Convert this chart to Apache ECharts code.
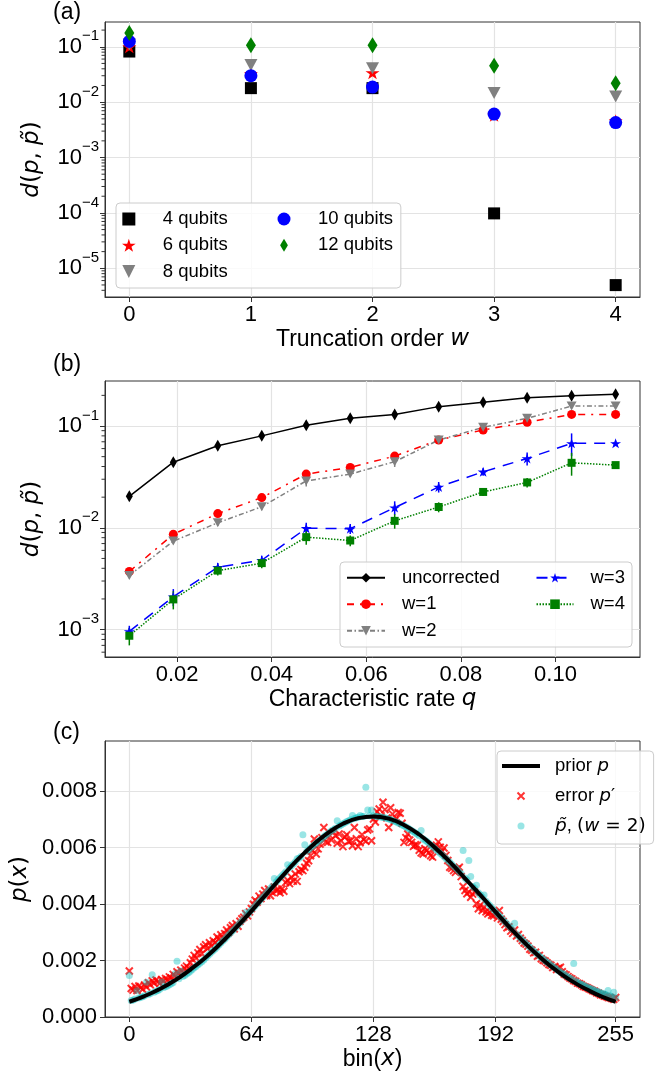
<!DOCTYPE html>
<html><head><meta charset="utf-8">
<script src="https://cdn.jsdelivr.net/npm/echarts@6/dist/echarts.min.js"></script>
<style>html,body{margin:0;padding:0;background:#fff}#c{width:669px;height:1075px}</style>
</head><body><div id="c"></div>
<script>
// ---------------- Panel (a) ----------------
const truncOrder = [0, 1, 2, 3, 4];
const d4q  = [0.082, 0.0179, 0.0179, 9.8e-5, 4.97e-6];
const d6q  = [0.100, 0.033, 0.034, 0.0058, 0.0046];
const d8q  = [0.110, 0.047, 0.041, 0.0146, 0.0126];
const d10q = [0.125, 0.030, 0.0187, 0.0061, 0.00428];
const d12q = [0.177, 0.106, 0.106, 0.0453, 0.022];
const decadeTicksA = [1e-5, 1e-4, 1e-3, 1e-2, 1e-1];
const minorDecadesA = [1e-6, 1e-5, 1e-4, 1e-3, 1e-2, 1e-1];

// ---------------- Panel (b) ----------------
const rateQ = [0.0099, 0.0192, 0.0286, 0.0379, 0.0473, 0.0566, 0.0660, 0.0753, 0.0847, 0.0940, 0.1034, 0.1127];
const dUncorr = [0.0204, 0.0441, 0.064, 0.080, 0.1016, 0.119, 0.130, 0.155, 0.171, 0.189, 0.198, 0.205];
const eUncorr = [0.0012, 0.002, 0.003, 0.003, 0.004, 0.004, 0.005, 0.005, 0.006, 0.006, 0.006, 0.006];
const dW1 = [0.00372, 0.00863, 0.0138, 0.0198, 0.0337, 0.0392, 0.0506, 0.0728, 0.0914, 0.109, 0.130, 0.130];
const eW1 = [0.0002, 0.0006, 0.0009, 0.0012, 0.002, 0.002, 0.003, 0.004, 0.005, 0.005, 0.006, 0.006];
const dW2 = [0.0034, 0.0074, 0.0112, 0.0161, 0.0289, 0.0337, 0.0446, 0.0728, 0.097, 0.119, 0.157, 0.157];
const eW2 = [0.0002, 0.0005, 0.0008, 0.0012, 0.0035, 0.002, 0.005, 0.004, 0.005, 0.005, 0.008, 0.006];
const dW3 = [0.00096, 0.0021, 0.0041, 0.0048, 0.0099, 0.0098, 0.0158, 0.0252, 0.0355, 0.048, 0.0676, 0.0676];
const eW3 = [0.00013, 0.0004, 0.0004, 0.0005, 0.0013, 0.0011, 0.0024, 0.003, 0.003, 0.007, 0.017, 0.004];
const dW4 = [0.00087, 0.00198, 0.0038, 0.0045, 0.0081, 0.0075, 0.0117, 0.016, 0.0225, 0.0279, 0.0435, 0.0413];
const eW4 = [0.00017, 0.0004, 0.0004, 0.0005, 0.0013, 0.0009, 0.0019, 0.0018, 0.002, 0.003, 0.011, 0.003];
const rateTicks = [0.02, 0.04, 0.06, 0.08, 0.10];
const decadeTicksB = [1e-3, 1e-2, 1e-1];
const minorDecadesB = [1e-4, 1e-3, 1e-2, 1e-1];
const minorMult = [2, 3, 4, 5, 6, 7, 8, 9];

// ---------------- Panel (c) ----------------  (values in units of 1e-4)
const UNIT = 1e-4;
const binTicks = [0, 64, 128, 192, 255];
const pTicks = [0, 0.002, 0.004, 0.006, 0.008];
const priorBins = [0,8,16,24,32,40,48,56,64,72,80,88,96,104,112,120,128,136,144,152,160,168,176,184,192,200,208,216,224,232,240,248,255];
const priorP = [5.4,7.4,9.9,13.0,16.8,21.1,26.1,31.6,37.5,43.6,49.7,55.5,60.7,65.1,68.4,70.4,71.0,70.2,68.0,64.6,60.1,54.9,49.1,43.2,37.2,31.3,25.8,20.8,16.4,12.7,9.7,7.1,5.4];
const errorP = [
16.3,10.1,9.5,10.8,9.4,11.0,10.4,9.8,11.3,10.6,
12.1,11.4,12.8,12.0,13.1,12.5,11.9,13.3,12.7,13.6,
13.0,14.2,13.8,15.1,14.5,16.0,15.4,16.6,15.9,17.3,
18.0,17.4,19.2,20.5,21.8,20.9,22.7,23.9,22.4,24.8,
25.6,24.2,26.3,25.1,27.0,26.4,28.3,27.6,29.1,28.0,
29.5,30.8,29.9,31.6,32.4,31.2,33.0,32.1,33.9,34.8,
35.3,36.6,35.8,37.2,38.4,39.9,41.3,40.6,42.8,41.9,
43.5,44.8,43.0,45.3,42.9,44.1,46.0,44.6,45.2,44.0,
45.3,44.5,47.6,48.4,47.2,49.5,48.1,50.6,48.0,51.4,
52.2,51.8,53.0,54.4,55.3,57.1,58.9,63.0,57.7,59.5,
61.2,63.5,67.1,62.0,61.8,64.3,62.6,65.5,64.2,61.5,
64.8,62.4,60.3,63.7,64.5,62.2,62.4,60.6,67.1,63.1,
60.3,61.7,64.5,62.8,62.2,66.2,66.6,62.4,70.1,69.0,
72.6,73.6,71.2,76.0,73.4,70.5,67.1,74.1,71.8,69.4,
70.2,72.4,72.1,68.6,61.8,63.5,64.8,62.6,61.8,60.4,
61.0,60.8,59.0,58.1,57.7,59.6,59.0,58.2,57.1,56.6,
59.4,60.8,62.0,60.1,58.7,59.8,57.2,55.4,53.0,52.6,
51.8,51.2,52.4,53.0,49.7,46.2,44.8,43.6,44.3,42.4,
43.5,44.2,40.1,38.3,39.6,37.7,38.9,37.2,36.5,37.1,
36.0,35.8,36.7,35.1,37.7,34.6,33.8,32.7,31.6,31.9,
30.4,29.6,30.8,28.7,29.2,27.9,27.1,26.2,25.8,25.1,
24.0,23.6,22.7,22.9,21.5,21.8,20.6,20.1,19.8,19.2,
18.6,18.3,17.5,17.9,16.8,17.3,17.6,16.0,15.2,14.9,
14.3,13.8,13.5,12.9,12.6,12.0,11.8,11.4,10.9,10.6,
10.4,10.0,9.7,9.3,9.1,8.6,8.4,7.9,7.8,7.4,
7.2,6.9,6.8,6.5,6.3,6.9];
const tildeP = [
14.7,5.8,6.0,6.4,9.3,6.7,7.0,7.2,7.5,12.3,
8.0,8.3,15.0,8.8,9.1,9.4,9.8,12.4,10.4,10.7,
11.0,11.4,11.8,12.2,15.3,19.7,13.5,16.3,14.3,14.7,
15.2,15.7,16.2,16.8,17.4,17.9,18.5,19.0,19.6,20.2,
20.9,21.6,22.2,22.9,23.5,24.1,24.8,25.5,26.2,26.9,
27.5,28.2,29.0,29.7,30.4,31.1,31.9,32.6,33.4,34.1,
34.9,37.0,36.3,37.1,37.9,38.6,39.4,40.2,40.9,41.7,
42.4,43.2,44.0,44.8,45.6,46.3,49.0,47.8,48.6,49.3,
50.0,50.7,51.4,53.9,52.8,53.5,54.2,54.9,56.0,56.2,
56.8,64.5,61.0,58.6,59.2,59.8,60.4,61.0,61.5,62.1,
62.6,63.2,63.8,64.3,64.8,65.4,65.9,66.3,66.8,69.5,
67.6,68.0,68.4,68.8,69.2,69.5,69.8,71.3,70.3,70.5,
70.7,71.3,71.0,71.1,81.3,73.3,71.2,73.3,71.2,71.1,
71.0,70.9,70.8,70.6,70.5,70.3,70.1,69.9,69.6,69.3,
69.0,68.7,68.4,68.0,67.7,67.3,66.9,66.5,66.0,65.6,
65.1,64.7,64.2,66.0,63.1,62.6,62.1,61.5,60.9,60.4,
59.8,59.2,58.6,58.0,57.4,56.8,56.1,55.5,54.8,54.1,
53.4,52.8,52.1,51.4,50.7,58.9,49.2,48.5,55.4,49.7,
46.2,45.6,46.6,44.0,43.3,42.5,43.2,41.0,40.2,39.5,
38.7,38.0,37.3,36.5,35.8,35.1,34.3,33.6,32.9,32.2,
31.5,30.8,33.2,29.4,28.7,28.0,27.3,26.6,26.0,25.3,
24.7,24.0,23.4,22.8,22.2,21.6,21.0,20.5,19.9,19.4,
18.9,18.4,17.9,17.4,16.9,16.4,15.9,15.5,15.1,14.6,
14.2,13.8,13.4,18.9,12.7,12.3,11.9,11.6,11.3,10.9,
10.6,10.3,10.0,9.7,9.4,9.1,8.9,8.6,8.4,8.1,
7.9,9.4,7.5,7.2,8.8,6.8];

// ---------------- styling ----------------
const FONT = "'Liberation Sans', Arial, sans-serif";
const MATH = "'DejaVu Sans', sans-serif";
const SPINE = '#333';
const GRIDC = '#e3e3e3';
const SQUARE = 'path://M0,0L10,0L10,10L0,10Z';
const TRI_DOWN = 'path://M0,0L20,0L10,20Z';
const THIN_DIAMOND = 'path://M6,0L12,10L6,20L0,10Z';
const STAR = 'path://M0,-1L0.2245,-0.309L0.9511,-0.309L0.3633,0.118L0.5878,0.809L0,0.382L-0.5878,0.809L-0.3633,0.118L-0.9511,-0.309L-0.2245,-0.309Z';
const XMARK = 'path://M0,0L10,10M10,0L0,10';

const A_MIN = 3.03e-6, A_MAX = 0.28;
const B_MIN = 5.38e-4, B_MAX = 0.2768;
const AX = { min: -0.2, max: 4.2 };
const BX = { min: 0.00476, max: 0.11786 };
const CX = { min: -12.75, max: 267.75 };

function minorVals(decades, lo, hi) {
  const out = [];
  decades.forEach(d => minorMult.forEach(m => { const v = m * d; if (v > lo && v < hi) out.push(v); }));
  return out;
}
const supRich = {
  b: { fontSize: 22, lineHeight: 36, fontFamily: FONT, color: '#000' },
  s: { fontSize: 15, lineHeight: 15, verticalAlign: 'top', fontFamily: FONT, color: '#000' }
};
function supFmt(v) {
  const e = Math.round(Math.log10(v));
  return '{b|10}{s|' + (e < 0 ? '\u2212' + (-e) : e) + '}';
}
const mathRich = (fs) => ({
  i: { fontFamily: MATH, fontStyle: 'italic', fontSize: fs, color: '#000' },
  m: { fontFamily: MATH, fontSize: fs, color: '#000' },
  t: { fontFamily: FONT, fontSize: fs, color: '#000' }
});

function xAxisBase(gi, ext, ticks, fmt, nameRich) {
  return {
    gridIndex: gi, type: 'value', min: ext.min, max: ext.max,
    axisLine: { show: true, onZero: false, lineStyle: { color: SPINE, width: 1 } },
    axisTick: { show: true, customValues: ticks, length: 5, lineStyle: { color: SPINE, width: 1 } },
    axisLabel: { customValues: ticks, formatter: fmt, fontSize: 22, fontFamily: FONT, color: '#000', margin: 7 },
    splitLine: { show: true, lineStyle: { color: GRIDC, width: 1.2 } },
    name: nameRich, nameLocation: 'middle', nameGap: 31,
    nameTextStyle: { fontSize: 23, fontFamily: FONT, color: '#000', rich: mathRich(23) }
  };
}
function yLogAxis(gi, lo, hi, ticks) {
  return {
    gridIndex: gi, type: 'log', logBase: 10, min: lo, max: hi,
    axisLine: { show: true, onZero: false, lineStyle: { color: SPINE, width: 1 } },
    axisTick: { show: true, customValues: ticks, length: 5, lineStyle: { color: SPINE, width: 1 } },
    axisLabel: { customValues: ticks, formatter: supFmt, rich: supRich, margin: 6 },
    splitLine: { show: true, lineStyle: { color: GRIDC, width: 1.2 } },
    name: '{i|d}{m|(}{i|p}{m|, }{i|p\u0303}{m|)}', nameLocation: 'middle', nameRotate: 90, nameGap: 61,
    nameTextStyle: { fontSize: 23, fontFamily: MATH, color: '#000', rich: mathRich(23) }
  };
}
function minorTickSeries(xi, xMin, vals) {
  return {
    type: 'custom', xAxisIndex: xi, yAxisIndex: xi, silent: true, clip: false, z: 6,
    data: vals.map(v => [xMin, v]), encode: { x: 0, y: 1 },
    renderItem: (p, api) => {
      const pt = api.coord([api.value(0), api.value(1)]);
      return { type: 'line', shape: { x1: pt[0], y1: pt[1], x2: pt[0] - 3.5, y2: pt[1] }, style: { stroke: SPINE, lineWidth: 1 } };
    }
  };
}
function errSeries(xs, ys, es, color) {
  return {
    type: 'custom', xAxisIndex: 1, yAxisIndex: 1, silent: true, z: 2,
    data: xs.map((x, i) => [x, ys[i], es[i]]), encode: { x: 0, y: 1 },
    renderItem: (p, api) => {
      const x = api.value(0), y = api.value(1), e = api.value(2);
      const a = api.coord([x, y - e]), b = api.coord([x, y + e]);
      return { type: 'line', shape: { x1: a[0], y1: a[1], x2: b[0], y2: b[1] }, style: { stroke: color, lineWidth: 1.5 } };
    }
  };
}
function scatterA(name, ys, symbol, size, color) {
  return { name, type: 'scatter', xAxisIndex: 0, yAxisIndex: 0, symbol, symbolSize: size,
    itemStyle: { color, opacity: 1 }, data: truncOrder.map((x, i) => [x, ys[i]]) };
}
function lineB(name, ys, symbol, size, color, dash) {
  return { name, type: 'line', xAxisIndex: 1, yAxisIndex: 1, symbol, symbolSize: size, showAllSymbol: true,
    lineStyle: { color, width: 1.5, type: dash }, itemStyle: { color },
    data: rateQ.map((x, i) => [x, ys[i]]) };
}

const legendText = (w, padL) => ({ fontSize: 18.5, fontFamily: FONT, color: '#000', lineHeight: 19, width: w, padding: [0, 0, 0, padL] });
const frame = { backgroundColor: 'rgba(255,255,255,0.8)', borderColor: '#cccccc', borderWidth: 1, borderRadius: 4 };

const option = {
  animation: false,
  backgroundColor: '#fff',
  title: [
    { text: '(a)', left: 53, top: 1, padding: 0, textStyle: { fontSize: 23, fontWeight: 'normal', fontFamily: FONT, color: '#000' } },
    { text: '(b)', left: 53, top: 353, padding: 0, textStyle: { fontSize: 23, fontWeight: 'normal', fontFamily: FONT, color: '#000' } },
    { text: '(c)', left: 53, top: 721, padding: 0, textStyle: { fontSize: 23, fontWeight: 'normal', fontFamily: FONT, color: '#000' } }
  ],
  grid: [
    { left: 105, top: 22, width: 535, height: 275, show: true, borderColor: SPINE, borderWidth: 1, backgroundColor: 'transparent' },
    { left: 105, top: 381, width: 535, height: 276, show: true, borderColor: SPINE, borderWidth: 1, backgroundColor: 'transparent' },
    { left: 105, top: 741, width: 535, height: 276, show: true, borderColor: SPINE, borderWidth: 1, backgroundColor: 'transparent' }
  ],
  xAxis: [
    xAxisBase(0, AX, truncOrder, v => String(v), '{t|Truncation order }{i|w}'),
    xAxisBase(1, BX, rateTicks, v => v.toFixed(2), '{t|Characteristic rate }{i|q}'),
    xAxisBase(2, CX, binTicks, v => String(v), '{t|bin(}{i|x}{t|)}')
  ],
  yAxis: [
    yLogAxis(0, A_MIN, A_MAX, decadeTicksA),
    yLogAxis(1, B_MIN, B_MAX, decadeTicksB),
    {
      gridIndex: 2, type: 'value', min: 0, max: 0.00977,
      axisLine: { show: true, onZero: false, lineStyle: { color: SPINE, width: 1 } },
      axisTick: { show: true, customValues: pTicks, length: 5, lineStyle: { color: SPINE, width: 1 } },
      axisLabel: { customValues: pTicks, formatter: v => v.toFixed(3), fontSize: 22, fontFamily: FONT, color: '#000', margin: 8 },
      splitLine: { show: true, lineStyle: { color: GRIDC, width: 1.2 } },
      name: '{i|p}{m|(}{i|x}{m|)}', nameLocation: 'middle', nameRotate: 90, nameGap: 68,
      nameTextStyle: { fontSize: 23, fontFamily: MATH, color: '#000', rich: mathRich(23) }
    }
  ],
  legend: [
    Object.assign({ data: ['4 qubits', '6 qubits', '8 qubits'], left: 116, top: 203, orient: 'vertical',
      itemWidth: 38, itemHeight: 13, itemGap: 7.3, padding: [6.5, 158, 6.9, 6], selectedMode: false,
      textStyle: legendText(80, 10) }, frame),
    { data: ['10 qubits', '12 qubits'], left: 277.5, top: 209.5, orient: 'vertical',
      itemWidth: 38, itemHeight: 13, itemGap: 7.3, padding: 0, selectedMode: false, textStyle: legendText(80, 10) },
    Object.assign({ data: ['uncorrected', 'w=1', 'w=2'], left: 340, top: 562, orient: 'vertical',
      itemWidth: 38, itemHeight: 12, itemGap: 7.5, padding: [6.2, 130, 6.8, 6], selectedMode: false,
      textStyle: legendText(100, 12) }, frame),
    { data: ['w=3', 'w=4'], left: 535.5, top: 568.2, orient: 'vertical',
      itemWidth: 37, itemHeight: 12, itemGap: 7.5, padding: 0, selectedMode: false, textStyle: legendText(60, 12) },
    Object.assign({ data: [{ name: 'prior', icon: 'path://M0,0H40V4H0Z' }, 'error', 'ptilde'], left: 497, top: 751, orient: 'vertical',
      itemWidth: 38, itemHeight: 7, itemGap: 8, padding: [4, 8, 7, 5], selectedMode: false,
      textStyle: Object.assign(legendText(88, 10), { lineHeight: 22, rich: mathRich(18.5) }),
      formatter: n => n === 'prior' ? '{t|prior }{i|p}' : n === 'error' ? '{t|error }{i|p}{m|\u2032}' : '{i|p\u0303}{t|, }{m|(}{i|w}{m| = 2)}' }, frame)
  ],
  series: [
    // panel (a)
    scatterA('4 qubits', d4q, SQUARE, [12, 12], '#000000'),
    scatterA('6 qubits', d6q, STAR, [14, 13], '#ff0000'),
    scatterA('8 qubits', d8q, TRI_DOWN, [13, 12], '#808080'),
    scatterA('10 qubits', d10q, 'circle', 13, '#0000ff'),
    scatterA('12 qubits', d12q, THIN_DIAMOND, [10, 16], '#008000'),
    minorTickSeries(0, AX.min, minorVals(minorDecadesA, A_MIN, A_MAX)),
    // panel (b)
    lineB('uncorrected', dUncorr, THIN_DIAMOND, [7, 12], '#000000', 'solid'),
    errSeries(rateQ, dUncorr, eUncorr, '#000000'),
    lineB('w=1', dW1, 'circle', 9, '#ff0000', [7, 6, 2, 6]),
    errSeries(rateQ, dW1, eW1, '#ff0000'),
    lineB('w=2', dW2, TRI_DOWN, [10, 9], '#808080', [5, 2.5, 1.5, 2.5]),
    errSeries(rateQ, dW2, eW2, '#808080'),
    lineB('w=3', dW3, STAR, [11, 10], '#0000ff', [11, 8]),
    errSeries(rateQ, dW3, eW3, '#0000ff'),
    lineB('w=4', dW4, SQUARE, [8, 8], '#008000', [1.5, 1.5]),
    errSeries(rateQ, dW4, eW4, '#008000'),
    minorTickSeries(1, BX.min, minorVals(minorDecadesB, B_MIN, B_MAX)),
    // panel (c)
    { name: 'error', type: 'scatter', xAxisIndex: 2, yAxisIndex: 2, symbol: XMARK, symbolSize: 7, z: 2,
      itemStyle: { color: 'rgba(0,0,0,0)', borderColor: '#ff0000', borderWidth: 2 },
      data: errorP.map((v, i) => [i, v * UNIT]) },
    { name: 'ptilde', type: 'scatter', xAxisIndex: 2, yAxisIndex: 2, symbol: 'circle', symbolSize: 7, z: 2,
      itemStyle: { color: 'rgba(0,191,191,0.5)' },
      data: tildeP.map((v, i) => [i, v * UNIT]) },
    { name: 'prior', type: 'line', xAxisIndex: 2, yAxisIndex: 2, symbol: 'none', smooth: true, z: 3,
      lineStyle: { color: '#000', width: 4 }, itemStyle: { color: '#000' },
      data: priorBins.map((b, i) => [b, priorP[i] * UNIT]) }
  ]
};
const chart = echarts.init(document.getElementById('c'), null, { renderer: 'canvas' });
chart.setOption(option);
</script></body></html>
